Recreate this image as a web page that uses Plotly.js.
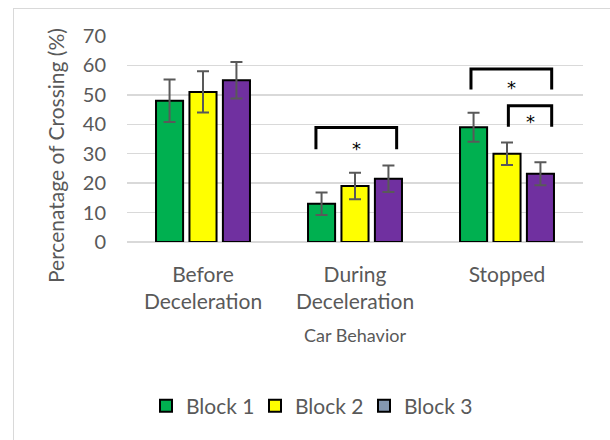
<!DOCTYPE html>
<html>
<head>
<meta charset="utf-8">
<script src="https://cdn.plot.ly/plotly-3.0.1.min.js"></script>
<style>
  html, body { margin: 0; padding: 0; background: #fff; overflow: hidden; }
  #chart { position: absolute; left: 0; top: 0; width: 610px; height: 440px; }
  #frame { position: absolute; left: 13px; top: 8px; width: 800px; height: 800px;
           border: 1px solid #d9d9d9; pointer-events: none; }
</style>
</head>
<body>
<div id="chart"></div>
<div id="frame"></div>
<script>
// ---- data ----
const categories = ['Before<br>Deceleration', 'During<br>Deceleration', 'Stopped'];
const seriesNames = ['Block 1', 'Block 2', 'Block 3'];
const block1 = [48, 13, 39];
const block2 = [51, 19, 30];
const block3 = [55, 21.5, 23.2];
const block1Err = [7.2, 3.8, 4.9];
const block2Err = [7.0, 4.5, 3.8];
const block3Err = [6.2, 4.5, 3.9];
const barColors = ['#00B050', '#FFFF00', '#7030A0'];
const legendColors = ['#00B050', '#FFFF00', '#8497B0'];
// significance brackets (category-index units, value units)
const sigX0 = [0.743, 1.763, 2.009];
const sigX1 = [1.274, 2.294, 2.294];
const sigTop = [38.9, 58.8, 46.3];
const sigBottom = [31.5, 51.8, 39.2];
const sigLabel = ['*', '*', '*'];
const sigLabelY = [31.9, 52.6, 41.0];

const values = [block1, block2, block3];
const errs = [block1Err, block2Err, block3Err];
const textColor = '#595959';
const FONT = 'Lato, "Open Sans", sans-serif';
const legendWidths = [64, 64, 80];

const traces = [];
for (let i = 0; i < 3; i++) {
  traces.push({
    type: 'bar', x: categories, y: values[i], name: seriesNames[i],
    offsetgroup: 'g' + i, showlegend: false,
    marker: { color: barColors[i], line: { color: '#000', width: 2 } },
    error_y: { type: 'data', array: errs[i], visible: true, color: '#595959', thickness: 2, width: 6 },
    hoverinfo: 'skip'
  });
}
// legend entries (Block 3's swatch is drawn in a different colour in the original)
for (let i = 0; i < 3; i++) {
  traces.push({
    type: 'bar', x: [categories[0]], y: [null], name: seriesNames[i],
    offsetgroup: 'g' + i, showlegend: true, legendwidth: legendWidths[i],
    marker: { color: legendColors[i], line: { color: '#000', width: 2 } },
    hoverinfo: 'skip'
  });
}

const shapes = [];
const annotations = [];
for (let k = 0; k < sigX0.length; k++) {
  shapes.push({
    type: 'path', xref: 'x', yref: 'y',
    path: `M${sigX0[k]},${sigBottom[k]} L${sigX0[k]},${sigTop[k]} L${sigX1[k]},${sigTop[k]} L${sigX1[k]},${sigBottom[k]}`,
    line: { color: '#000', width: 3 }
  });
  annotations.push({
    xref: 'x', yref: 'y', x: (sigX0[k] + sigX1[k]) / 2, y: sigLabelY[k],
    text: sigLabel[k], showarrow: false, font: { family: '"DejaVu Sans", sans-serif', size: 18, color: '#000' },
    xanchor: 'center', yanchor: 'middle'
  });
}
annotations.push({
  xref: 'paper', yref: 'paper', x: (55 - 127) / 456, y: (242 - 156) / 206,
  text: 'Percenatage of Crossing (%)', textangle: -90, showarrow: false,
  font: { family: FONT, size: 21, color: textColor }, xanchor: 'center', yanchor: 'middle'
});

const layout = {
  width: 610, height: 440,
  margin: { l: 127, r: 27, t: 36, b: 198 },
  paper_bgcolor: 'rgba(0,0,0,0)', plot_bgcolor: 'rgba(0,0,0,0)',
  barmode: 'group', bargap: 0.34, bargroupgap: 0.19,
  font: { family: FONT, color: textColor },
  xaxis: {
    type: 'category', showgrid: false, zeroline: false, showline: false, ticks: '',
    tickfont: { family: FONT, size: 21, color: textColor },
    ticklabelstandoff: 18,
    title: { text: 'Car Behavior', font: { family: FONT, size: 18, color: textColor }, standoff: 17 }
  },
  yaxis: {
    range: [0, 70], dtick: 10, tick0: 0, showgrid: true, gridcolor: '#d9d9d9', gridwidth: 1.5,
    zeroline: true, zerolinecolor: '#d9d9d9', zerolinewidth: 1.5,
    showline: false, ticks: '', ticklabelstandoff: 20,
    tickfont: { family: FONT, size: 20, color: textColor }
  },
  legend: {
    orientation: 'h', xref: 'container', yref: 'container',
    x: 146 / 610, y: 34 / 440, xanchor: 'left', yanchor: 'middle',
    font: { family: FONT, size: 21, color: textColor },
    bgcolor: 'rgba(0,0,0,0)'
  },
  shapes: shapes,
  annotations: annotations,
  showlegend: true
};

Plotly.newPlot('chart', traces, layout, { staticPlot: true, displayModeBar: false });
</script>
</body>
</html>
